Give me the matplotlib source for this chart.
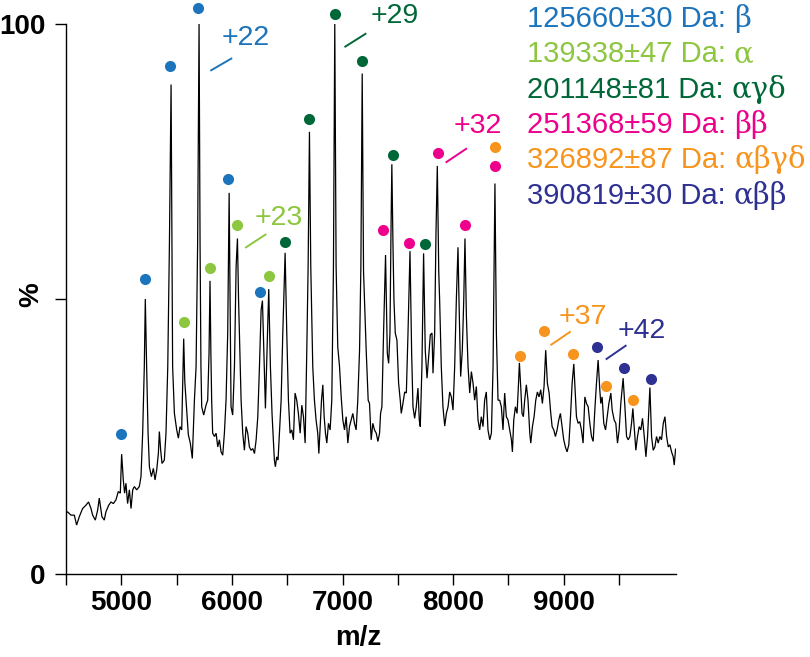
import matplotlib
matplotlib.use('Agg')
import matplotlib.pyplot as plt

plt.rcParams['font.family'] = ['Liberation Sans', 'DejaVu Sans']

# ---------------- spectrum (m/z, % intensity) ----------------
mz = [
    4493, 4514, 4545, 4575, 4596, 4620, 4650, 4680, 4704, 4726,
    4741, 4765, 4786, 4801, 4825, 4846, 4861, 4886, 4907, 4928,
    4952, 4973, 4991, 5003, 5018, 5030, 5042, 5057, 5073, 5088,
    5103, 5118, 5139, 5163, 5178, 5193, 5208, 5217, 5229, 5242,
    5254, 5272, 5290, 5305, 5320, 5335, 5344, 5356, 5368, 5389,
    5404, 5420, 5435, 5450,
    5464, 5480, 5501, 5516, 5531, 5546, 5556, 5564, 5574, 5585,
    5606, 5624, 5642, 5661, 5676, 5690, 5703, 5712, 5720, 5727,
    5745, 5766, 5781, 5793, 5802, 5810, 5817, 5826, 5842, 5857,
    5872, 5887, 5902, 5917, 5932, 5947, 5962, 5975, 5985, 5992,
    6007, 6023, 6038, 6050, 6060, 6068, 6083, 6098, 6113, 6128,
    6143, 6158, 6173, 6189, 6204, 6219, 6234, 6249, 6264, 6276,
    6288, 6303, 6318, 6333, 6348,
    6363, 6384, 6393, 6405, 6417, 6430, 6445, 6460, 6481, 6496,
    6511, 6526, 6541, 6556, 6571, 6586, 6601, 6617, 6632, 6647,
    6662, 6677, 6689, 6701, 6713, 6731, 6746, 6761, 6776, 6786,
    6798, 6810, 6822, 6834, 6846, 6858, 6873, 6888, 6903, 6918,
    6930, 6942, 6957, 6973, 6988, 7003, 7018, 7033, 7048, 7063,
    7078, 7093, 7108, 7123, 7138, 7154, 7166, 7178, 7190, 7199,
    7214, 7232, 7244, 7259, 7274, 7289,
    7305, 7320, 7335, 7344, 7356, 7371, 7389, 7405, 7417, 7429,
    7438, 7446, 7456, 7465, 7477, 7492, 7507, 7522, 7531, 7546,
    7562, 7577, 7592, 7610, 7625, 7637, 7652, 7667, 7682, 7694,
    7703, 7718, 7733, 7748, 7764, 7779, 7794, 7809, 7818, 7833,
    7845, 7857, 7870, 7878, 7893, 7908, 7924, 7939, 7954, 7969,
    7984, 7999, 8014, 8029, 8044, 8053, 8068, 8083, 8096, 8107,
    8120, 8135, 8150, 8165, 8180, 8195, 8210, 8225, 8240, 8255,
    8270, 8285,
    8300, 8315, 8331, 8346, 8361, 8370, 8378, 8386, 8391, 8406,
    8421, 8436, 8451, 8466, 8481, 8496, 8512, 8527, 8536, 8548,
    8563, 8578, 8590, 8599, 8611, 8623, 8635, 8647, 8662, 8677,
    8693, 8702, 8717, 8732, 8747, 8762, 8777, 8792, 8807, 8822,
    8837, 8852, 8868, 8880, 8895, 8910, 8925, 8940, 8955, 8970,
    8985, 9000, 9015, 9030, 9046, 9061, 9076, 9091, 9106, 9115,
    9130, 9145,
    9160, 9175, 9191, 9206, 9221, 9236, 9251, 9266, 9281, 9296,
    9311, 9326, 9335, 9347, 9362, 9378, 9393, 9408, 9426, 9438,
    9456, 9471, 9486, 9501, 9516, 9537, 9553, 9568, 9583, 9598,
    9613, 9625, 9637, 9652, 9667, 9682, 9697, 9712, 9728, 9743,
    9758, 9779, 9794, 9809, 9824, 9839, 9854, 9869, 9884, 9900,
    9915, 9930, 9945, 9960, 9975, 9990, 9999, 10011,
]
intensity = [
    11.0, 11.3, 10.7, 10.7, 8.9, 10.4, 11.9, 12.5, 13.1, 11.9,
    10.7, 9.8, 11.6, 13.8, 10.4, 9.8, 11.3, 12.5, 13.1, 12.8,
    13.5, 15.0, 14.7, 21.8, 17.1, 14.7, 16.5, 12.8, 15.3, 11.9,
    15.3, 15.9, 15.3, 15.9, 17.7, 25.6, 37.7, 50.0, 37.7, 25.6,
    19.5, 17.7, 19.2, 17.1, 18.9, 21.9, 25.9, 22.5, 20.1, 20.7,
    25.6, 37.7, 60.0, 89.0,
    37.7, 29.2, 26.2, 24.7, 26.8, 26.2, 35.0, 42.8, 35.0, 31.6,
    25.3, 23.8, 21.0, 31.6, 37.7, 60.0, 100.0, 60.0, 37.7, 30.4,
    28.9, 30.7, 31.6, 40.0, 53.3, 40.0, 31.6, 25.6, 25.0, 25.6,
    23.1, 24.4, 22.2, 21.6, 25.6, 31.6, 43.8, 69.3, 45.0, 30.4,
    28.9, 37.7, 55.9, 61.0, 50.0, 43.8, 31.6, 25.6, 22.5, 26.8,
    25.6, 23.1, 22.5, 22.8, 21.9, 24.4, 28.6, 37.7, 48.0, 49.7,
    40.7, 30.1, 40.7, 51.8, 37.7,
    29.0, 20.7, 19.5, 21.3, 20.7, 25.6, 31.6, 43.8, 58.4, 43.8,
    31.6, 25.6, 26.2, 24.4, 32.9, 31.6, 29.2, 25.6, 30.7, 28.6,
    23.8, 40.7, 55.9, 80.4, 55.9, 37.7, 31.6, 28.0, 25.6, 21.9,
    26.8, 31.6, 34.4, 28.6, 25.6, 23.8, 27.4, 26.2, 31.6, 55.9,
    100.0, 55.9, 41.3, 37.7, 32.2, 28.0, 26.2, 28.6, 23.8, 26.8,
    28.0, 29.2, 27.4, 26.2, 31.6, 40.7, 55.9, 91.0, 55.0, 49.8,
    40.7, 31.6, 31.0, 24.4, 27.4, 26.2,
    25.6, 24.1, 25.6, 29.2, 30.4, 43.8, 58.0, 40.1, 38.3, 43.8,
    61.9, 74.5, 60.0, 49.8, 43.8, 42.5, 34.7, 31.6, 29.2, 31.0,
    33.1, 32.9, 43.8, 58.7, 40.1, 30.4, 28.3, 30.4, 33.8, 28.0,
    26.8, 37.7, 58.3, 40.7, 35.6, 39.5, 43.5, 43.8, 36.5, 43.8,
    61.9, 74.2, 55.0, 49.8, 37.7, 30.4, 26.9, 29.2, 30.4, 33.1,
    32.2, 29.8, 37.7, 49.8, 59.4, 49.8, 35.9, 40.7, 49.8, 61.0,
    46.8, 37.7, 32.9, 36.8, 34.7, 31.6, 34.1, 28.0, 26.2, 28.6,
    26.8, 31.6,
    33.1, 26.2, 24.4, 25.6, 37.7, 55.0, 71.0, 55.0, 43.8, 31.6,
    31.6, 30.4, 26.2, 32.9, 28.6, 28.0, 26.2, 24.4, 22.2, 28.0,
    30.4, 29.2, 34.1, 38.4, 34.1, 29.2, 28.6, 31.6, 34.4, 31.6,
    25.6, 23.8, 26.8, 28.6, 31.6, 33.1, 32.2, 33.5, 31.0, 34.1,
    40.7, 34.7, 32.9, 29.8, 26.8, 26.2, 25.0, 26.2, 28.0, 29.2,
    26.8, 24.4, 23.1, 22.2, 23.5, 28.6, 34.7, 38.2, 32.0, 28.6,
    27.4, 27.7,
    26.2, 23.8, 32.2, 31.0, 30.4, 27.4, 25.0, 24.1, 29.8, 34.7,
    38.9, 33.5, 31.0, 32.2, 27.4, 26.2, 28.6, 31.0, 32.9, 29.8,
    28.0, 27.4, 23.8, 26.2, 31.0, 35.6, 30.4, 25.0, 24.4, 25.0,
    27.4, 30.1, 26.8, 22.5, 25.0, 26.8, 26.2, 28.3, 25.0, 21.3,
    25.0, 33.9, 25.0, 22.5, 23.1, 25.0, 23.8, 25.0, 24.4, 27.4,
    28.6, 25.0, 23.1, 23.5, 22.2, 21.3, 19.8, 22.7,
]
assert len(mz) == len(intensity)

# ---------------- charge-state dots per species ----------------
beta_mz = [5000, 5214, 5441, 5694, 5962, 6257]
beta_int = [25.5, 53.7, 92.4, 102.9, 71.8, 51.3]
alpha_mz = [5564, 5803, 6050, 6333]
alpha_int = [45.9, 55.6, 63.5, 54.1]
agd_mz = [6478, 6698, 6930, 7175, 7459, 7742]
agd_int = [60.3, 82.7, 101.8, 93.3, 76.1, 60.0]
bb_mz = [7365, 7600, 7860, 8104, 8382]
bb_int = [62.5, 60.2, 76.6, 63.4, 74.2]
abgd_mz = [8378, 8602, 8822, 9088, 9380, 9624]
abgd_int = [77.6, 39.7, 44.1, 40.0, 34.2, 31.7]
abb_mz = [9301, 9543, 9787]
abb_int = [41.2, 37.4, 35.5]

colors = ['#1C75BC', '#8DC63F', '#006838', '#EC008C', '#F7941D', '#2E3192']
legend_nums = ['125660\u00b130 Da:', '139338\u00b147 Da:', '201148\u00b181 Da:',
               '251368\u00b159 Da:', '326892\u00b187 Da:', '390819\u00b130 Da:']
legend_greek = ['\u03b2', '\u03b1', '\u03b1\u03b3\u03b4', '\u03b2\u03b2',
                '\u03b1\u03b2\u03b3\u03b4', '\u03b1\u03b2\u03b2']

charge_labels = ['+22', '+23', '+29', '+32', '+37', '+42']
charge_text_xy = [(5911, 96.2), (6204, 63.5), (7251, 100.2), (8007, 80.2), (8957, 45.5), (9491, 42.9)]
charge_line = [((5805, 91.5), (6002, 93.8)), ((6120, 59.3), (6310, 61.8)),
               ((7018, 95.8), (7215, 98.3)), ((7932, 74.8), (8125, 77.4)),
               ((8880, 41.6), (9063, 44.1)), ((9380, 39.0), (9567, 41.6))]

xticks = [4500, 5000, 5500, 6000, 6500, 7000, 7500, 8000, 8500, 9000, 9500]
xticklabels = ['', '5000', '', '6000', '', '7000', '', '8000', '', '9000', '']
yticks = [0, 50, 100]
yticklabels = ['0', '', '100']

W, H = 810, 657
fig = plt.figure(figsize=(W / 100, H / 100), dpi=100)
ax = fig.add_axes([66 / W, 83 / H, 610 / W, 550 / H])

ax.plot(mz, intensity, color='black', lw=0.9, solid_joinstyle='miter')

series = [(beta_mz, beta_int), (alpha_mz, alpha_int), (agd_mz, agd_int),
          (bb_mz, bb_int), (abgd_mz, abgd_int), (abb_mz, abb_int)]
for (xs, ys), c in zip(series, colors):
    ax.plot(xs, ys, 'o', color=c, ms=8, mec='none', clip_on=False, zorder=3)

for lab, (tx, ty), ((x1, y1), (x2, y2)), c in zip(charge_labels, charge_text_xy, charge_line, colors):
    ax.text(tx, ty, lab, color=c, fontsize=20.5, ha='left', va='baseline', clip_on=False)
    ax.plot([x1, x2], [y1, y2], color=c, lw=1.4, clip_on=False, solid_capstyle='butt')

ax.set_xlim(4500, 10015)
ax.set_ylim(0, 100)
for s in ['top', 'right']:
    ax.spines[s].set_visible(False)
for s in ['left', 'bottom']:
    ax.spines[s].set_linewidth(1.0)

ax.set_xticks(xticks)
ax.set_xticklabels(xticklabels)
ax.set_yticks(yticks)
ax.set_yticklabels(yticklabels)
ax.tick_params(axis='both', direction='out', length=7.7, width=1.0, labelsize=20)
ax.tick_params(axis='x', pad=4)
ax.tick_params(axis='y', pad=7)
for lbl in ax.get_xticklabels() + ax.get_yticklabels():
    lbl.set_fontweight('bold')

fig.text(31 / W, 1 - 295 / H, '%', rotation=90, ha='center', va='center',
         fontsize=20, fontweight='bold')
fig.text(358 / W, 1 - 638 / H, 'm/z', ha='center', va='center',
         fontsize=20, fontweight='bold')

# legend as coloured text lines (number part in sans, Greek in serif)
fig.canvas.draw()
renderer = fig.canvas.get_renderer()
x0 = 527
base0 = 26.7
step = 35.4
for i, (num, gr, c) in enumerate(zip(legend_nums, legend_greek, colors)):
    yb = 1 - (base0 + i * step) / H
    t = fig.text(x0 / W, yb, num, color=c, fontsize=21, ha='left', va='baseline')
    bb = t.get_window_extent(renderer)
    fig.text((bb.x1 + 8) / W, yb, gr, color=c, fontsize=21, ha='left', va='baseline',
             family=['DejaVu Serif', 'Liberation Serif'])

fig.savefig('out.png', dpi=100)
